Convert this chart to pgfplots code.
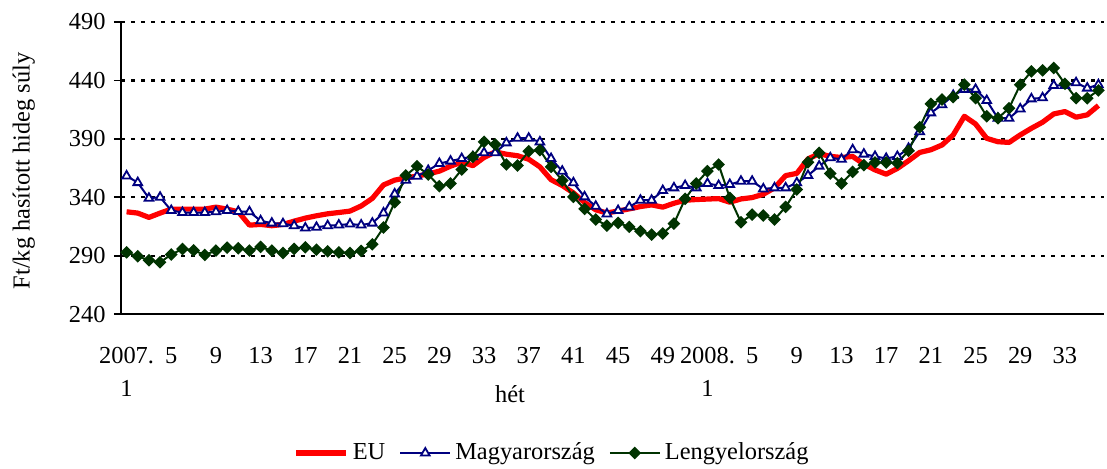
\documentclass[border=0pt]{standalone}
\usepackage{pgfplots}
\pgfplotsset{compat=1.18}
\usepackage{fontspec}
\setmainfont{Liberation Serif}
\definecolor{eured}{RGB}{255,0,0}
\definecolor{hunavy}{RGB}{0,0,128}
\definecolor{pldark}{RGB}{0,51,0}
\pgfplotstableread{
i eu hu pl
0 327.5 358.2 292.8
1 326.4 352.5 289.4
2 322.7 339.1 286
3 326.4 340 284.3
4 329.8 328.6 290.9
5 329.8 326.9 295.7
6 329.8 326.9 294.5
7 329.8 326.9 290.6
8 331.5 327.5 294.3
9 329.8 328.6 296.8
10 327.5 327.8 296.3
11 316.1 327.5 294.3
12 316.7 319.8 297.4
13 315.6 317.8 294.3
14 316.7 317.3 292.3
15 319.5 315.6 295.7
16 322.1 313.6 297.1
17 324.1 314.2 295.1
18 325.8 315.6 293.7
19 326.9 316.2 292.8
20 328.1 317 292.3
21 332.5 316.2 294
22 339 317.8 299.7
23 350.5 326.5 314
24 354.6 342.8 335.7
25 356.6 354.6 358.6
26 358 358 366.6
27 360 362.9 359.4
28 362.3 368.9 349.4
29 366.6 370.9 351.7
30 370 373.1 363.7
31 367 374.6 374.6
32 374 378 387.4
33 378.8 378 385.1
34 376.8 386.5 368
35 375.5 390.5 367.1
36 372.5 390.5 379.4
37 366 387.3 380.3
38 355 373.1 366
39 350 362.3 354.3
40 343.7 352.3 340.3
41 335.5 340.3 330
42 329.2 332.3 320.9
43 326.5 325.7 315.7
44 328.2 328.6 318
45 330 331.7 314.6
46 332 337.4 310.9
47 333.4 337.4 308
48 331.5 345.7 308.9
49 334.8 348 317.4
50 337.4 350 338.6
51 338 348 351.7
52 338.4 351.7 362.3
53 338.8 350 368
54 335.7 350.9 339.4
55 338.5 353.7 318.6
56 339.7 353.7 325.1
57 342.5 347.1 324.3
58 348 348 320.9
59 358.5 348 331.7
60 360.4 352.3 346.6
61 372.8 358.6 370
62 377.2 366.6 378
63 375 373.7 360.3
64 374 372.5 351.7
65 374.9 380.6 361.7
66 368.3 376.9 367.4
67 363.4 374.9 369.7
68 359.7 373.2 369.7
69 364.6 374.9 369.2
70 371.2 381.8 379.8
71 378.3 396.1 399.9
72 380.6 412.2 419.9
73 384.7 419.1 423.7
74 393.3 427.1 425.7
75 409.3 432.3 436.3
76 402.7 432.3 424.8
77 390.4 422.8 409.3
78 387.5 407.6 407.6
79 386.9 407.6 416.2
80 393.3 415.6 436.3
81 399 424.2 447.7
82 404.2 425.1 448.6
83 411.3 435.7 450.6
84 413.3 435.7 437.1
85 408.5 438 424.8
86 410.5 433.4 424.8
87 418.5 436.3 431.4
}\data
\begin{document}
\fontsize{12.2}{16.5}\selectfont
\begin{tikzpicture}
\useasboundingbox (0,0) rectangle (553.5pt,234pt);
\begin{axis}[
  at={(60.5pt,77pt)}, anchor=south west,
  scale only axis, width=491.5pt, height=146pt,
  xmin=-0.5, xmax=87.5, ymin=240, ymax=490,
  axis x line=bottom, axis y line=left,
  axis line style={-, line width=0.9pt, black},
  ytick={240,290,...,490},
  xtick={0,4,...,84},
  xticklabels={{2007.\\1},5,9,13,17,21,25,29,33,37,41,45,49,{2008.\\1},5,9,13,17,21,25,29,33},
  xticklabel style={align=center, anchor=north, yshift=-9pt, font=\fontsize{12.2}{16.5}\selectfont},
  yticklabel style={font=\fontsize{12.2}{16.5}\selectfont},
  /pgf/number format/assume math mode=true,
  major x tick style={draw=none},
  extra x ticks={-0.5,0.5,...,87.5},
  extra x tick labels={},
  extra x tick style={tick align=outside, major tick length=3pt, tick style={line width=0.7pt, black}},
  tick align=outside, major tick length=3.5pt,
  y tick style={line width=0.9pt, black},
  ymajorgrids,
  grid style={black, line width=1.1pt, dash pattern=on 2.2pt off 2.8pt},
  ylabel={Ft/kg hasított hideg súly},
  every axis y label/.style={at={(axis description cs:-0.099,0.49)}, rotate=90, anchor=center, font=\fontsize{12.2}{16.5}\selectfont},
  legend columns=3,
  legend style={draw=none, fill=none, at={(axis description cs:0.4395,-0.476)}, anchor=center,
    font=\fontsize{12.2}{14}\selectfont,
    /tikz/every even column/.append style={column sep=5pt},
    inner sep=0pt},
  legend image code/.code={\draw[mark repeat=2,mark phase=2,#1] plot coordinates {(0pt,0pt) (12.5pt,0pt) (25pt,0pt)};},
]
\addplot[eured, line width=2.6pt, line join=round, no markers] table[x=i,y=eu]{\data};
\addlegendentry{EU}
\addplot[hunavy, line width=1pt, mark=triangle*, mark size=2.5pt, mark options={fill=white, line width=0.9pt, solid}] table[x=i,y=hu]{\data};
\addlegendentry{Magyarország}
\addplot[pldark, line width=1pt, mark=square*, mark size=1.75pt, mark options={rotate=45, fill=pldark, solid}] table[x=i,y=pl]{\data};
\addlegendentry{Lengyelország}
\end{axis}
\node[anchor=base] at (255pt,33pt) {hét};
\end{tikzpicture}
\end{document}
